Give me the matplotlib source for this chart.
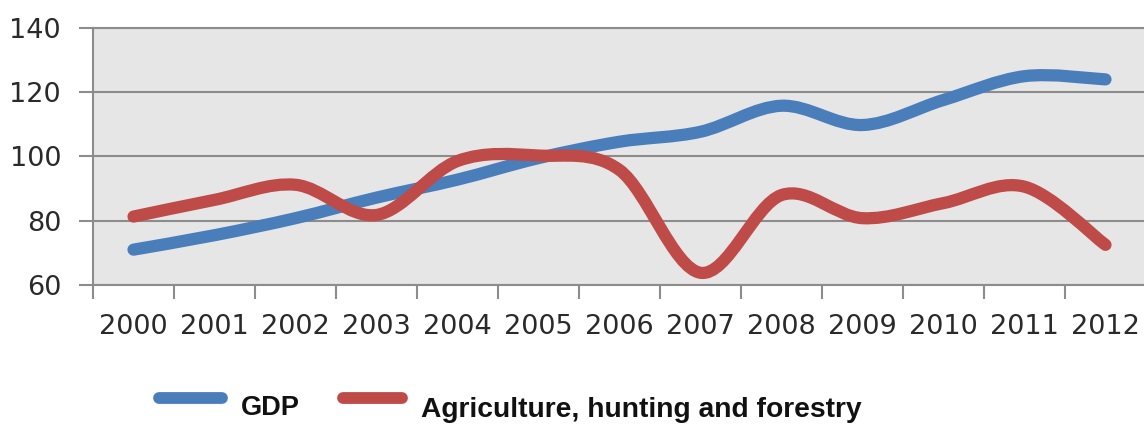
import numpy as np
import matplotlib
matplotlib.use('Agg')
import matplotlib.pyplot as plt
from matplotlib.path import Path
from matplotlib.patches import PathPatch
from matplotlib.lines import Line2D

# 数据
years = ['2000', '2001', '2002', '2003', '2004', '2005', '2006',
         '2007', '2008', '2009', '2010', '2011', '2012']
gdp = [71.0, 75.5, 80.8, 87.2, 92.8, 99.5, 104.6, 107.7, 115.8, 109.8, 117.6, 125.0, 124.0]
agri = [81.3, 86.5, 91.2, 81.8, 98.6, 100.3, 95.8, 63.8, 88.0, 80.8, 85.5, 90.6, 72.5]
series_names = ['GDP', 'Agriculture, hunting and forestry']
colors = ['#4a7ebb', '#be4b48']


# Excel风格的平滑曲线(贝塞尔)
def smooth_path(xs, ys):
    pts = np.column_stack([xs, ys]).astype(float)
    n = len(pts)
    verts = [pts[0]]
    codes = [Path.MOVETO]
    for i in range(n - 1):
        p0 = pts[i - 1] if i > 0 else pts[i]
        p3 = pts[i + 2] if i + 2 < n else pts[i + 1]
        c1 = pts[i] + (pts[i + 1] - p0) / 6
        c2 = pts[i + 1] - (p3 - pts[i]) / 6
        verts += [c1, c2, pts[i + 1]]
        codes += [Path.CURVE4] * 3
    return Path(verts, codes)


W, H = 1144, 426
fig = plt.figure(figsize=(W / 100, H / 100), dpi=100)
ax = fig.add_axes([93 / W, 1 - 285 / H, 1053 / W, 257 / H])
ax.set_facecolor('#e6e6e6')

x = np.arange(len(years))
for vals, c in zip([gdp, agri], colors):
    patch = PathPatch(smooth_path(x, vals), fill=False, edgecolor=c, lw=8.8,
                      capstyle='round', joinstyle='round', zorder=3)
    ax.add_patch(patch)

ax.set_xlim(-0.5, len(years) - 0.5)
ax.set_ylim(60, 140)
ax.set_yticks(np.arange(60, 141, 20))
ax.yaxis.grid(True, color='#8c8c8c', lw=1.5)
ax.set_axisbelow(True)

# x轴: 主刻度在分隔处, 标签在中间
ax.set_xticks(np.arange(-0.5, len(years)), labels=[''] * (len(years) + 1))
ax.set_xticks(x, labels=years, minor=True)
ax.tick_params(axis='x', which='major', length=10, width=1.5, color='#8c8c8c', direction='out')
ax.tick_params(axis='x', which='minor', length=0, pad=21, labelsize=19.5, labelcolor='#2a2a2a')
ax.tick_params(axis='y', length=10, width=1.5, color='#8c8c8c', pad=13,
               labelsize=19.5, labelcolor='#2a2a2a')

for s in ['left', 'bottom', 'top']:
    ax.spines[s].set_color('#8c8c8c')
    ax.spines[s].set_linewidth(1.5)
ax.spines['right'].set_visible(False)

# 图例(手动放置)
legend_font = dict(family=['Liberation Sans', 'DejaVu Sans'], weight='bold', color='#111111')
fig.add_artist(Line2D([159 / W, 222 / W], [1 - 398 / H] * 2, color=colors[0], lw=8.5,
                      solid_capstyle='round', transform=fig.transFigure))
fig.add_artist(Line2D([343 / W, 402 / W], [1 - 398 / H] * 2, color=colors[1], lw=8.5,
                      solid_capstyle='round', transform=fig.transFigure))
fig.text(241 / W, 1 - 415 / H, series_names[0], va='baseline', ha='left', size=19.5, **legend_font)
fig.text(421 / W, 1 - 417 / H, series_names[1], va='baseline', ha='left', size=20.3, **legend_font)

fig.savefig('out.png', dpi=100)
